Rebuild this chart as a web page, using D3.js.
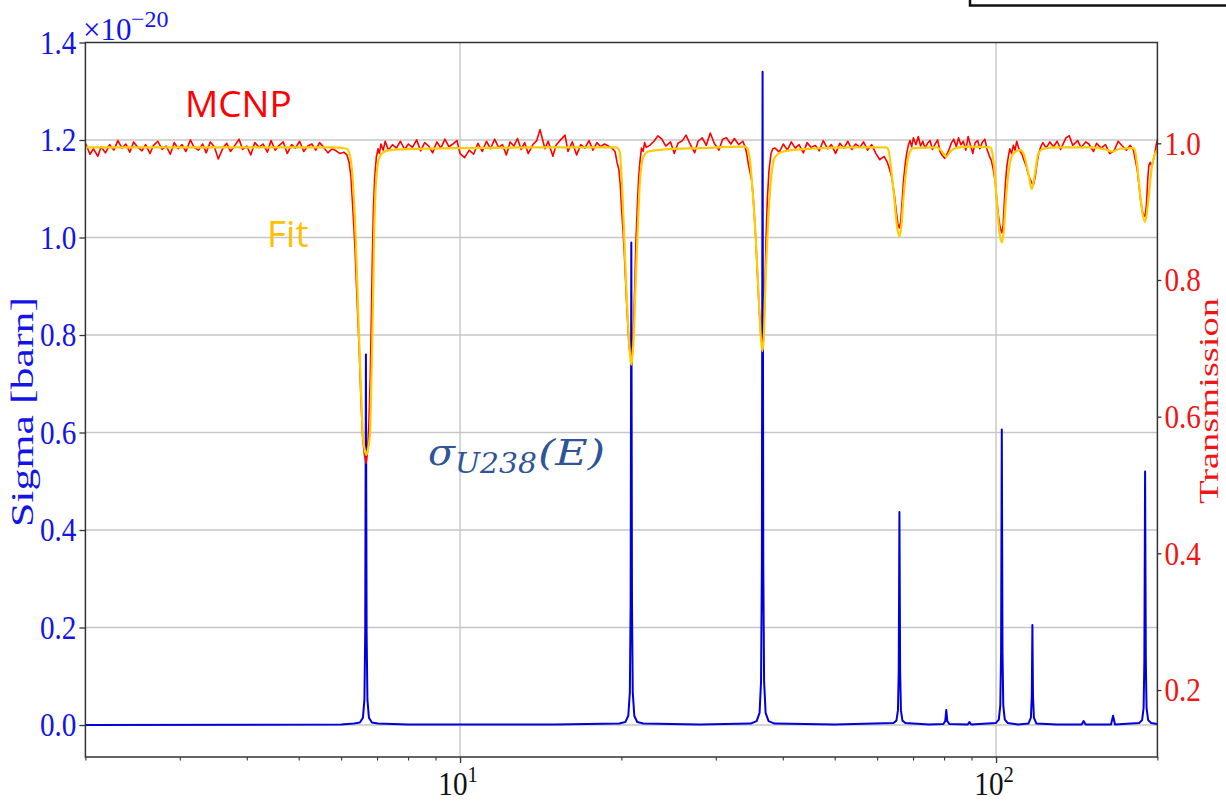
<!DOCTYPE html>
<html><head><meta charset="utf-8">
<script src="https://cdn.jsdelivr.net/npm/d3@7"></script>
<style>body{margin:0;background:#fff;} svg{display:block;}</style>
</head><body>
<svg id="c" width="1226" height="802"></svg>
<script>
// ---------- data ----------
const energyRange = [2, 200];
const sigmaRange = [-0.0656, 1.4];
const transRange = [0.102, 1.1475];
const sigmaTicks = [0, 0.2, 0.4, 0.6, 0.8, 1.0, 1.2, 1.4];
const transTicks = [0.2, 0.4, 0.6, 0.8, 1.0];
const energyMajor = [10, 100];
const energyMinor = [2,3,4,5,6,7,8,9,20,30,40,50,60,70,80,90,200];

// sigma(E) in units of 1e-20 barn
const sigmaU238 = [
[2,0],[6.0,0.001],[6.339,0.003],[6.504,0.005],[6.589,0.015],[6.631,0.052],[6.654,0.19],[6.674,0.76],[6.694,0.19],[6.717,0.052],[6.761,0.015],[6.848,0.005],[7.027,0.003],[8,0.001],
[15,0.001],[19.82,0.003],[20.34,0.006],[20.60,0.019],[20.74,0.067],[20.81,0.25],[20.87,0.99],[20.93,0.25],[21.00,0.067],[21.14,0.019],[21.41,0.006],[21.97,0.003],
[28,0.001],[34.84,0.003],[35.75,0.008],[36.21,0.025],[36.44,0.09],[36.57,0.33],[36.68,1.34],[36.79,0.33],[36.92,0.09],[37.16,0.025],[37.64,0.008],[38.62,0.003],
[50,0.001],[64.35,0.004],[65.18,0.009],[65.61,0.03],[65.83,0.11],[66.03,0.437],[66.23,0.11],[66.46,0.03],[66.89,0.009],[67.75,0.004],
[75,0.001],[79.72,0.002],[80.40,0.008],[80.75,0.031],[81.10,0.008],[81.80,0.002],[88.54,0.001],[89.2,0.006],[89.87,0.001],
[99.89,0.004],[101.19,0.011],[101.84,0.04],[102.19,0.15],[102.5,0.606],[102.81,0.15],[103.16,0.04],[103.83,0.011],[105.18,0.004],
[110,0.001],[114.91,0.003],[116.15,0.015],[116.6,0.06],[116.9,0.205],[117.2,0.06],[117.66,0.015],[118.93,0.003],
[130,0.001],[144.45,0.001],[145.7,0.008],[146.95,0.001],[163.9,0.001],[165.3,0.019],[166.7,0.001],
[184.9,0.004],[187.3,0.01],[188.5,0.035],[189.1,0.13],[189.7,0.52],[190.3,0.13],[190.9,0.035],[192.2,0.01],[194.7,0.004],[200,0.002]
];

// MCNP transmission
const mcnp = [
[2.00,1.000],[2.04,0.984],[2.07,0.992],[2.11,0.981],[2.14,0.995],[2.18,0.986],[2.22,0.998],[2.26,0.990],[2.30,1.004],[2.34,0.993],[2.38,0.999],[2.42,0.987],[2.46,1.002],[2.50,0.995],[2.55,0.989],[2.59,0.998],[2.64,0.985],[2.68,0.997],[2.73,1.003],[2.78,0.991],[2.83,0.996],[2.88,0.984],[2.93,1.001],[2.98,0.992],[3.03,0.998],[3.08,0.988],[3.14,1.005],[3.19,0.994],[3.25,0.990],[3.31,0.999],[3.36,0.986],[3.42,1.002],[3.48,0.995],[3.54,0.977],[3.61,0.993],[3.67,1.000],[3.73,0.988],[3.80,0.997],[3.87,1.006],[3.93,0.991],[4.00,0.996],[4.07,0.983],[4.14,1.001],[4.22,0.994],[4.29,0.999],[4.37,0.987],[4.44,1.004],[4.52,0.990],[4.60,0.997],[4.68,1.002],[4.76,0.985],[4.85,0.998],[4.93,0.993],[5.02,1.003],[5.11,0.988],[5.20,0.996],[5.29,0.999],[5.38,0.990],[5.47,1.001],[5.57,0.994],[5.67,0.986],[5.77,0.992],[5.87,0.989],[5.97,0.985],[6.07,0.987],
[6.15,0.983],[6.21,0.972],[6.26,0.950],[6.29,0.922],[6.33,0.885],[6.37,0.845],[6.41,0.790],[6.45,0.740],[6.49,0.690],[6.53,0.630],[6.58,0.570],[6.63,0.545],[6.68,0.532],[6.72,0.548],[6.76,0.590],[6.80,0.660],[6.83,0.740],[6.86,0.830],[6.89,0.900],[6.93,0.950],[6.98,0.980],[7.03,0.992],[7.07,0.985],[7.12,0.999],[7.19,0.990],[7.25,1.003],
[7.35,0.990],[7.48,0.998],[7.61,0.993],[7.74,1.003],[7.88,0.991],[8.01,0.999],[8.15,0.994],[8.30,1.005],[8.44,0.989],[8.59,1.001],[8.74,0.996],[8.89,0.986],[9.05,1.002],[9.21,0.993],[9.37,1.006],[9.53,0.995],[9.70,0.999],[9.87,1.004],[10.0,0.985],[10.2,0.979],[10.4,0.990],[10.6,0.984],[10.8,1.000],[11.0,0.988],[11.2,1.003],[11.4,0.992],[11.6,1.006],[11.8,0.994],[12.0,0.998],[12.2,0.983],[12.4,1.002],[12.6,0.996],[12.8,1.007],[13.0,0.991],[13.2,1.001],[13.4,0.985],[13.7,0.999],[13.9,1.004],[14.1,1.020],[14.4,0.992],[14.6,1.003],[14.9,0.981],[15.1,0.997],[15.4,1.005],[15.7,1.012],[15.9,0.988],[16.2,1.002],[16.5,0.983],[16.8,0.998],[17.1,0.993],[17.4,1.004],[17.7,0.990],[18.0,1.001],[18.3,0.995],[18.6,0.999],[18.9,0.996],[19.2,0.993],
[19.46,0.988],[19.63,0.972],[19.78,0.962],[19.90,0.940],[20.03,0.900],[20.15,0.870],[20.25,0.840],[20.36,0.800],[20.46,0.765],[20.56,0.735],[20.66,0.705],[20.77,0.690],[20.87,0.687],[20.98,0.700],[21.09,0.740],[21.20,0.800],[21.30,0.861],[21.42,0.910],[21.54,0.950],[21.67,0.975],[21.80,0.993],[21.95,0.988],[22.10,1.001],[22.25,0.994],
[22.6,0.997],[23.0,1.003],[23.4,1.011],[23.8,1.006],[24.2,0.996],[24.7,1.002],[25.1,0.985],[25.5,1.000],[26.0,1.004],[26.4,1.012],[26.9,0.998],[27.4,0.986],[27.8,1.003],[28.3,1.008],[28.8,0.997],[29.3,1.015],[29.8,1.000],[30.4,0.990],[30.9,1.006],[31.4,1.008],[32.0,0.999],[32.5,1.007],[33.1,0.998],[33.7,1.003],
[34.02,0.995],[34.26,0.985],[34.50,0.970],[34.75,0.958],[35.01,0.945],[35.2,0.925],[35.4,0.895],[35.62,0.860],[35.82,0.820],[36.0,0.785],[36.2,0.750],[36.4,0.722],[36.55,0.710],[36.7,0.708],[36.85,0.720],[37.0,0.760],[37.23,0.861],[37.45,0.920],[37.7,0.960],[38.03,0.985],[38.32,0.992],
[38.7,0.993],[39.4,0.987],[40.1,0.999],[40.8,0.990],[41.5,1.002],[42.2,0.993],[42.9,0.998],[43.7,0.986],[44.4,1.001],[45.2,0.994],[46.0,0.997],[46.8,0.989],[47.6,1.004],[48.5,0.992],[49.3,0.998],[50.2,0.985],[51.1,1.000],[52.0,0.993],[52.9,1.003],[53.8,0.991],[54.7,0.999],[55.7,0.994],[56.6,1.002],[57.6,0.990],[58.6,0.998],[59.7,0.985],[60.7,0.976],[61.8,0.981],
[62.7,0.972],[63.3,0.962],[63.9,0.950],[64.6,0.925],[65.2,0.898],[65.6,0.882],[66.0,0.876],[66.4,0.885],[66.8,0.915],[67.2,0.945],[67.7,0.970],[68.1,0.985],[68.6,0.997],[69.1,1.004],[69.6,0.995],[70.1,1.008],
[70.9,0.998],[71.6,1.010],[72.3,0.996],[73.0,1.003],[73.7,0.993],[74.5,1.000],[75.3,1.004],[76.1,0.991],[77.0,0.999],[77.8,1.005],[78.6,0.988],[79.4,0.982],[80.2,0.978],[81.0,0.984],[81.8,0.992],[82.6,1.001],[83.4,1.006],[84.3,0.995],[85.1,1.008],[86.0,0.998],[86.9,1.003],[87.8,0.990],[88.7,1.010],[89.6,0.997],[90.5,0.985],[91.4,1.001],[92.4,1.004],[93.3,0.992],[94.3,1.002],[95.3,1.006],[96.3,0.990],[97.3,0.980],
[98.0,0.975],[98.8,0.962],[99.6,0.945],[100.3,0.918],[101.0,0.895],[101.8,0.876],[102.5,0.869],[103.1,0.880],[103.7,0.918],[104.2,0.945],[104.7,0.965],[105.4,0.980],[106.1,0.992],[106.9,0.985],[107.7,0.997],[108.5,0.990],[109.3,1.003],[110.2,0.993],[111.0,0.988],[111.8,0.984],[112.8,0.975],[113.9,0.966],[114.8,0.955],[115.7,0.948],[116.6,0.942],[117.5,0.940],[118.4,0.952],[119.2,0.970],[120.1,0.985],[121.2,0.995],[122.3,1.001],
[124,0.993],[126,1.002],[128,0.995],[130,1.003],[132,0.991],[135,1.008],[137,1.011],[139,0.997],[142,1.004],[144,0.994],[147,1.002],[149,0.999],[152,0.988],[154,1.000],[157,0.993],[160,0.998],[163,0.985],[166,0.989],[169,1.003],[172,0.996],[175,0.990],[178,0.997],
[180.4,0.990],[182.0,0.975],[183.5,0.960],[185.0,0.935],[186.2,0.915],[187.5,0.900],[188.6,0.895],[189.7,0.893],[190.8,0.910],[191.8,0.945],[192.8,0.968],[194.0,0.972],[195.3,0.966],[196.5,0.975],[197.8,0.985],[199.0,0.998],[200.0,1.005]
];

// Fit transmission
const fit = [
[2.0,0.994],[4.0,0.994],[5.8,0.994],[6.146,0.992],[6.234,0.981],[6.307,0.947],[6.356,0.900],[6.389,0.861],[6.433,0.790],[6.480,0.717],[6.530,0.645],[6.584,0.576],[6.635,0.553],[6.687,0.544],[6.735,0.553],[6.793,0.576],[6.829,0.645],[6.861,0.717],[6.888,0.790],[6.911,0.861],[6.941,0.913],[6.992,0.957],[7.070,0.979],[7.193,0.987],[7.403,0.990],[8.5,0.992],[10.0,0.993],[15.0,0.994],[19.5,0.994],
[19.74,0.992],[19.88,0.985],[20.03,0.947],[20.25,0.861],[20.46,0.776],[20.64,0.717],[20.76,0.690],[20.87,0.676],[20.98,0.690],[21.09,0.717],[21.25,0.790],[21.42,0.861],[21.67,0.947],[21.98,0.980],[22.46,0.988],[24.0,0.991],[28.0,0.993],[34.0,0.995],
[34.26,0.994],[34.75,0.975],[35.1,0.935],[35.62,0.861],[36.0,0.790],[36.39,0.717],[36.64,0.696],[36.9,0.720],[37.07,0.776],[37.44,0.861],[38.03,0.947],[38.70,0.980],[40.10,0.988],[45.0,0.992],[55.0,0.994],[62.4,0.994],
[63.0,0.990],[63.62,0.967],[64.61,0.918],[65.3,0.880],[66.01,0.864],[66.6,0.880],[67.15,0.918],[68.14,0.967],[69.11,0.988],[70.1,0.993],[77.5,0.994],[79.5,0.987],[80.7,0.980],[82.0,0.987],[84.0,0.993],[90.0,0.995],[97.46,0.994],
[98.3,0.988],[99.14,0.967],[100.3,0.917],[101.4,0.872],[102.5,0.855],[103.4,0.872],[104.3,0.917],[105.9,0.966],[107.7,0.985],[110.9,0.990],[112.5,0.985],[114.9,0.956],[116.6,0.933],[118.2,0.956],[119.9,0.985],[122.5,0.992],
[130,0.994],[150,0.994],[160,0.991],[165,0.988],[170,0.992],[180.4,0.993],[181.8,0.988],[183.5,0.966],[186.2,0.917],[189.7,0.885],[192.4,0.917],[195.3,0.966],[198.0,0.985],[200,0.990]
];

// ---------- drawing ----------
const svg = d3.select("#c");
const P = {l: 85.4, r: 1157.4, t: 42.5, b: 757};
const SQ = 0.86;
const blueTxt = "#1414e6", redTxt = "#f01414";
const x = d3.scaleLog().domain(energyRange).range([P.l, P.r]);
const ys = d3.scaleLinear().domain(sigmaRange).range([P.b, P.t]);
const yt = d3.scaleLinear().domain(transRange).range([P.b, P.t]);

svg.append("rect").attr("width", 1226).attr("height", 802).attr("fill", "#fff");
svg.append("defs").append("clipPath").attr("id", "clip")
  .append("rect").attr("x", P.l).attr("y", P.t).attr("width", P.r - P.l).attr("height", P.b - P.t);

// grid
const grid = svg.append("g").attr("stroke", "#c6c6c6").attr("stroke-width", 1.4);
grid.selectAll("line.gh").data(sigmaTicks.filter(v => v < 1.4)).join("line").attr("class", "gh")
  .attr("x1", P.l).attr("x2", P.r).attr("y1", d => ys(d)).attr("y2", d => ys(d));
grid.selectAll("line.gv").data(energyMajor).join("line").attr("class", "gv")
  .attr("y1", P.t).attr("y2", P.b).attr("x1", d => x(d)).attr("x2", d => x(d));

// curves
const cg = svg.append("g").attr("clip-path", "url(#clip)");
cg.append("path").datum(sigmaU238)
  .attr("d", d3.line().x(d => x(d[0])).y(d => ys(d[1])))
  .attr("fill", "none").attr("stroke", "#0000dd").attr("stroke-width", 2).attr("stroke-linejoin", "round");
cg.append("path").datum(mcnp)
  .attr("d", d3.line().x(d => x(d[0])).y(d => yt(d[1])))
  .attr("fill", "none").attr("stroke", "#ff0000").attr("stroke-width", 1.6).attr("stroke-linejoin", "round");
cg.append("path").datum(fit)
  .attr("d", d3.line().curve(d3.curveMonotoneX).x(d => x(d[0])).y(d => yt(d[1])))
  .attr("fill", "none").attr("stroke", "#ffcc00").attr("stroke-width", 2.2).attr("stroke-linejoin", "round");

// frame
svg.append("rect").attr("x", P.l).attr("y", P.t).attr("width", P.r - P.l).attr("height", P.b - P.t)
  .attr("fill", "none").attr("stroke", "#333").attr("stroke-width", 1.5);

// left axis
const axL = svg.append("g").attr("transform", `translate(${P.l},0)`)
  .call(d3.axisLeft(ys).tickValues(sigmaTicks).tickFormat(d3.format(".1f")).tickSize(6));
axL.select(".domain").remove();
axL.selectAll(".tick line").attr("stroke", "#333").attr("stroke-width", 1.3);
axL.selectAll(".tick text").attr("fill", blueTxt).attr("font-family", "Liberation Serif").attr("font-size", 34)
  .attr("x", -9 / SQ).attr("transform", `scale(${SQ},1)`);

// right axis
const axR = svg.append("g").attr("transform", `translate(${P.r},0)`)
  .call(d3.axisRight(yt).tickValues(transTicks).tickFormat(d3.format(".1f")).tickSize(4));
axR.select(".domain").remove();
axR.selectAll(".tick line").attr("stroke", "#333").attr("stroke-width", 1.3);
axR.selectAll(".tick text").attr("fill", redTxt).attr("font-family", "Liberation Serif").attr("font-size", 34)
  .attr("x", 7 / SQ).attr("transform", `scale(${SQ},1)`);

// bottom axis
const axB = svg.append("g").attr("transform", `translate(0,${P.b})`)
  .call(d3.axisBottom(x).tickValues(energyMajor).tickFormat(() => "").tickSize(6));
axB.select(".domain").remove();
axB.selectAll(".tick line").attr("stroke", "#333").attr("stroke-width", 1.3);
const axBm = svg.append("g").attr("transform", `translate(0,${P.b})`)
  .call(d3.axisBottom(x).tickValues(energyMinor).tickFormat(() => "").tickSize(3.5));
axBm.select(".domain").remove();
axBm.selectAll(".tick line").attr("stroke", "#333").attr("stroke-width", 1.1);
energyMajor.forEach(v => {
  const t = svg.append("text").attr("transform", `translate(${x(v) - 2},795) scale(${SQ},1)`)
    .attr("text-anchor", "middle").attr("font-family", "Liberation Serif").attr("font-size", 34).attr("fill", "#111");
  t.append("tspan").text("10");
  t.append("tspan").attr("font-size", 24).attr("dy", -13).text(String(Math.round(Math.log10(v))));
});

// offset text (x10^-20)
svg.append("text").attr("x", 83).attr("y", 40).attr("font-family", "Liberation Serif")
  .attr("font-size", 31).attr("fill", blueTxt).text("\u00d710");
svg.append("text").attr("x", 131).attr("y", 27).attr("font-family", "Liberation Serif")
  .attr("font-size", 24).attr("fill", blueTxt).text("\u221220");

// axis titles
svg.append("text").attr("transform", `translate(22,412) scale(${SQ},1) rotate(-90)`)
  .attr("text-anchor", "middle").attr("dominant-baseline", "central")
  .attr("font-family", "Liberation Serif").attr("font-size", 37).attr("fill", blueTxt)
  .attr("textLength", 230).attr("lengthAdjust", "spacingAndGlyphs").text("Sigma [barn]");
svg.append("text").attr("transform", `translate(1209,401) scale(${SQ},1) rotate(-90)`)
  .attr("text-anchor", "middle").attr("dominant-baseline", "central")
  .attr("font-family", "Liberation Serif").attr("font-size", 33).attr("fill", redTxt)
  .attr("textLength", 206).attr("lengthAdjust", "spacingAndGlyphs").text("Transmission");

// annotations
svg.append("text").attr("x", 185).attr("y", 117).attr("font-family", "Open Sans").attr("font-size", 37)
  .attr("fill", "#ff0000").text("MCNP");
svg.append("text").attr("x", 267).attr("y", 247).attr("font-family", "Open Sans").attr("font-size", 37)
  .attr("fill", "#ffc000").text("Fit");
const sc = "#2f5597";
svg.append("text").attr("x", 428).attr("y", 465).attr("font-family", "DejaVu Serif").attr("font-style", "italic")
  .attr("font-size", 38).attr("fill", sc).attr("textLength", 27).attr("lengthAdjust", "spacingAndGlyphs").text("\u03c3");
svg.append("text").attr("x", 455).attr("y", 473).attr("font-family", "DejaVu Serif").attr("font-style", "italic")
  .attr("font-size", 27).attr("fill", sc).attr("textLength", 82).attr("lengthAdjust", "spacingAndGlyphs").text("U238");
svg.append("text").attr("x", 538).attr("y", 465).attr("font-family", "DejaVu Serif").attr("font-style", "italic")
  .attr("font-size", 36).attr("fill", sc).attr("textLength", 67).attr("lengthAdjust", "spacingAndGlyphs").text("(E)");

// partial legend frame at top right
svg.append("rect").attr("x", 970).attr("y", -20).attr("width", 300).attr("height", 25.5)
  .attr("fill", "none").attr("stroke", "#111").attr("stroke-width", 2.5);
</script>
</body></html>
